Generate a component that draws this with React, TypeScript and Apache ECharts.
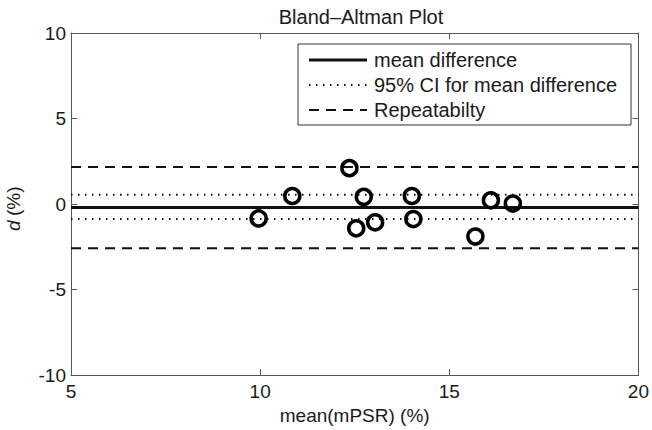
import React, { useEffect, useRef } from "react";
import * as echarts from "echarts";

const titleText = "Bland\u2013Altman Plot";
const xName = "mean(mPSR) (%)";
const meanX = [9.96, 10.85, 12.36, 12.74, 12.54, 13.04, 14.01, 14.05, 15.69, 16.1, 16.68];
const diffY = [-0.84, 0.47, 2.1, 0.42, -1.42, -1.07, 0.47, -0.88, -1.9, 0.22, 0.03];
const meanDiff = -0.2;
const ciUpper = 0.54;
const ciLower = -0.88;
const repUpper = 2.17;
const repLower = -2.58;
const xRange = [5, 20];
const legendLabels = ["mean difference", "95% CI for mean difference", "Repeatabilty"];

const FONT = "'Liberation Sans', Arial, Helvetica, sans-serif";

export default function App() {
  const ref = useRef<HTMLDivElement>(null);
  useEffect(() => {
    if (!ref.current) return;
    const chart = echarts.init(ref.current, undefined, { renderer: "svg" });
    const hline = (name: string, v: number, type: any, width: number) => ({
      name,
      type: "line",
      data: [[xRange[0], v], [xRange[1], v]],
      symbol: "none",
      silent: true,
      lineStyle: { color: "#111", width, type },
      z: 2,
    });
    const axisCommon = {
      axisLine: { show: true, onZero: false, lineStyle: { color: "#555", width: 1 } },
      axisTick: { show: true, inside: true, length: 6, lineStyle: { color: "#555" } },
      splitLine: { show: false },
    };
    const legendRows = [60, 85, 110];
    chart.setOption({
      animation: false,
      backgroundColor: "#fff",
      title: {
        text: titleText,
        left: 356,
        textAlign: "center",
        top: 2,
        textStyle: { fontFamily: FONT, fontSize: 20, fontWeight: "normal", color: "#1a1a1a" },
      },
      grid: { left: 71, right: 11, top: 33, bottom: 52 },
      xAxis: [
        {
          type: "value",
          min: 5,
          max: 20,
          interval: 5,
          name: xName,
          nameLocation: "middle",
          nameGap: 30,
          nameTextStyle: { fontFamily: FONT, fontSize: 19, color: "#1a1a1a" },
          axisLabel: { fontFamily: FONT, fontSize: 19, color: "#1a1a1a", margin: 7 },
          ...axisCommon,
        },
        {
          type: "value",
          position: "top",
          min: 5,
          max: 20,
          interval: 5,
          axisLabel: { show: false },
          ...axisCommon,
        },
      ],
      yAxis: [
        {
          type: "value",
          min: -10,
          max: 10,
          interval: 5,
          axisLabel: { fontFamily: FONT, fontSize: 19, color: "#1a1a1a", margin: 5 },
          ...axisCommon,
        },
        {
          type: "value",
          position: "right",
          min: -10,
          max: 10,
          interval: 5,
          axisLabel: { show: false },
          ...axisCommon,
        },
      ],
      series: [
        hline("mean difference", meanDiff, "solid", 3),
        hline("95% CI upper", ciUpper, [1.5, 5.5], 2),
        hline("95% CI lower", ciLower, [1.5, 5.5], 2),
        hline("Repeatability upper", repUpper, [10, 7], 2),
        hline("Repeatability lower", repLower, [10, 7], 2),
        {
          name: "points",
          type: "scatter",
          data: meanX.map((x, i) => [x, diffY[i]]),
          symbol: "circle",
          symbolSize: 15,
          itemStyle: { color: "rgba(0,0,0,0)", borderColor: "#000", borderWidth: 3.5, opacity: 1 },
          z: 5,
        },
      ],
      graphic: [
        {
          type: "group",
          x: 13,
          y: 208,
          rotation: Math.PI / 2,
          children: [
            {
              type: "text",
              x: -23,
              y: 0,
              style: {
                text: "d",
                fontFamily: FONT,
                fontSize: 19,
                fontStyle: "italic",
                fill: "#1a1a1a",
                textVerticalAlign: "middle",
                textAlign: "left",
              },
            },
            {
              type: "text",
              x: -8,
              y: 0,
              style: {
                text: "(%)",
                fontFamily: FONT,
                fontSize: 19,
                fill: "#1a1a1a",
                textVerticalAlign: "middle",
                textAlign: "left",
              },
            },
          ],
        },
        {
          type: "rect",
          shape: { x: 298, y: 44, width: 333, height: 81 },
          style: { fill: "#fff", stroke: "#333", lineWidth: 1 },
          z: 10,
        },
        {
          type: "line",
          shape: { x1: 309, y1: legendRows[0], x2: 367, y2: legendRows[0] },
          style: { stroke: "#111", lineWidth: 3 },
          z: 11,
        },
        {
          type: "line",
          shape: { x1: 309, y1: legendRows[1], x2: 367, y2: legendRows[1] },
          style: { stroke: "#111", lineWidth: 2, lineDash: [1.5, 5.5] },
          z: 11,
        },
        {
          type: "line",
          shape: { x1: 309, y1: legendRows[2], x2: 367, y2: legendRows[2] },
          style: { stroke: "#111", lineWidth: 2, lineDash: [10, 7] },
          z: 11,
        },
        ...legendLabels.map((t, i) => ({
          type: "text",
          x: 374,
          y: legendRows[i],
          z: 11,
          style: {
            text: t,
            fontFamily: FONT,
            fontSize: 20,
            fill: "#1a1a1a",
            textVerticalAlign: "middle",
            textAlign: "left",
          },
        })),
      ],
    });
    return () => chart.dispose();
  }, []);
  return <div ref={ref} style={{ width: 652, height: 430, position: "absolute", left: 0, top: 0 }} />;
}
